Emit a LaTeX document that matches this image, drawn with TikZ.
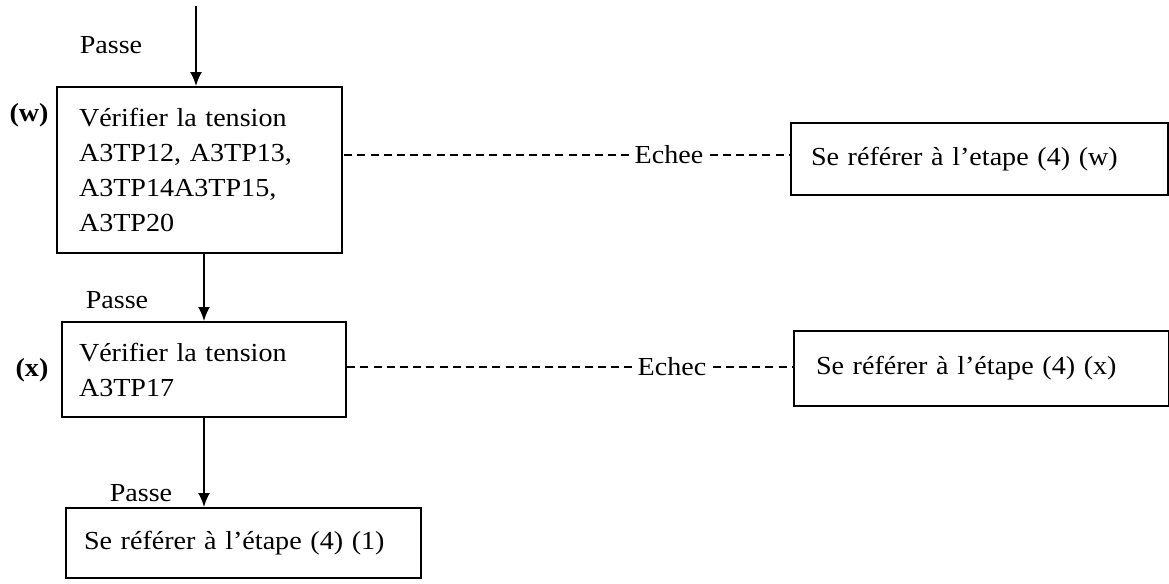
\documentclass[tikz,border=0pt]{standalone}
\usepackage{fontspec}
\setmainfont{Liberation Serif}[FakeStretch=1.08]
\usetikzlibrary{arrows.meta}
\begin{document}
\begin{tikzpicture}[x=0.5pt,y=-0.5pt,
  every node/.style={font=\fontsize{13}{17.5}\selectfont, inner sep=0pt},
  box/.style={draw, line width=1pt, anchor=north west, align=left, inner ysep=0pt},
  arr/.style={line width=0.9pt, -{Latex[length=7pt,width=6pt]}},
  dsh/.style={line width=0.8pt, dash pattern=on 4pt off 2.6pt},
  tag/.style={font=\fontsize{13}{15}\selectfont\bfseries}]
\useasboundingbox (0,0) rectangle (1169,584);

% left column boxes
\node[box, minimum width=142.5pt, minimum height=83pt, inner xsep=11pt, text width=120.5pt] (b1) at (56,86)
  {V\'erifier la tension\\A3TP12, A3TP13,\\A3TP14A3TP15,\\A3TP20};
\node[box, minimum width=142pt, minimum height=47.5pt, inner xsep=8.5pt, text width=125pt] (b2) at (61,321)
  {V\'erifier la tension\\A3TP17};
\node[box, minimum width=177.5pt, minimum height=35pt, inner xsep=9pt, text width=159.5pt] (b3) at (65,507)
  {Se r\'ef\'erer \`a l'\'etape (4) (1)};

% right boxes
\node[box, minimum width=188.5pt, minimum height=36pt, inner xsep=10pt, text width=168.5pt] (r1) at (790,122)
  {Se r\'ef\'erer \`a l'etape (4) (w)};
\node[box, minimum width=187.5pt, minimum height=37.5pt, inner xsep=11pt, text width=165.5pt] (r2) at (793,330)
  {Se r\'ef\'erer \`a l'\'etape (4) (x)};

% tags
\node[tag] (tw) at (29,115) {(w)};
\node[tag] (tx) at (32,370) {(x)};

% Passe labels
\node (p1) at (111,45) {Passe};
\node (p2) at (117,300) {Passe};
\node (p3) at (141,493) {Passe};

% vertical arrows
\coordinate (start) at (196,6);
\draw[arr] (start) -- (start |- b1.north);
\draw[arr] (b2.north |- b1.south) -- (b2.north);
\draw[arr] (b2.south) -- (b2.south |- b3.north);

% failure links
\node (e1) at (669,155) {Echee};
\node (e2) at (672,367) {Echec};
\draw[dsh] (e1.west |- 0,155) ++(-5,0) -- (b1.east |- 0,155);
\draw[dsh] (e1.east |- 0,155) ++(6,0) -- (r1.west |- 0,155);
\draw[dsh] (e2.west |- 0,367) ++(-5,0) -- (b2.east |- 0,367);
\draw[dsh] (e2.east |- 0,367) ++(6,0) -- (r2.west |- 0,367);
\end{tikzpicture}
\end{document}
